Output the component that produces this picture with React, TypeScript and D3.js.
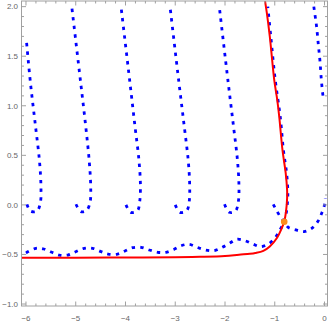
import React from 'react';
import * as d3 from 'd3';

const W = 330;
const H = 322;

// axis ticks
const xTicks = [-6, -5, -4, -3, -2, -1, 0];
const xTickLabels = ['\u22126', '\u22125', '\u22124', '\u22123', '\u22122', '\u22121', '0'];
const yTicks = [-1, -0.5, 0, 0.5, 1, 1.5, 2];
const yTickLabels = ['\u22121.0', '\u22120.5', '0.0', '0.5', '1.0', '1.5', '2.0'];

// red solid curve (x, y)
const redCurve: [number, number][] = [
  [-6.1, -0.532], [-5, -0.532], [-4, -0.531], [-3, -0.529], [-2.5, -0.524],
  [-2, -0.515], [-1.72, -0.502], [-1.5, -0.493], [-1.39, -0.485], [-1.23, -0.464],
  [-1.1, -0.42], [-0.96, -0.337], [-0.86, -0.236], [-0.81, -0.17], [-0.774, -0.068],
  [-0.752, 0.066], [-0.752, 0.15], [-0.78, 0.32], [-0.845, 0.554], [-0.91, 0.89],
  [-0.95, 1.06], [-1.01, 1.26], [-1.1, 1.7], [-1.16, 1.94], [-1.2, 2.07],
];

// blue dotted branches
const waveCurve: [number, number][] = [
  [-6.0, -0.485], [-5.8, -0.438], [-5.64, -0.445], [-5.48, -0.478], [-5.33, -0.506],
  [-5.16, -0.506], [-5.0, -0.472], [-4.83, -0.438], [-4.66, -0.438], [-4.49, -0.472],
  [-4.35, -0.496], [-4.16, -0.496], [-4.01, -0.465], [-3.86, -0.432], [-3.69, -0.428],
  [-3.52, -0.455], [-3.35, -0.478], [-3.19, -0.478], [-3.03, -0.45], [-2.87, -0.41],
  [-2.72, -0.398], [-2.56, -0.428], [-2.39, -0.455], [-2.22, -0.462], [-2.07, -0.432],
  [-1.91, -0.388], [-1.765, -0.347], [-1.6, -0.361], [-1.44, -0.395], [-1.28, -0.421],
  [-1.11, -0.388], [-0.975, -0.32], [-0.895, -0.253], [-0.84, -0.203], [-0.81, -0.17],
  [-0.765, -0.07], [-0.74, 0.06], [-0.738, 0.15], [-0.762, 0.32], [-0.826, 0.554],
  [-0.89, 0.89], [-0.99, 1.26], [-1.08, 1.7], [-1.14, 2.0],
];

const uCurve1: [number, number][] = [
  [-5.98, 0.006], [-5.91, -0.062], [-5.78, -0.062], [-5.71, 0.026], [-5.7, 0.2],
  [-5.73, 0.45], [-5.81, 0.8], [-5.91, 1.23], [-5.99, 1.65],
];
const uCurve2: [number, number][] = [
  [-4.995, 0.006], [-4.895, -0.068], [-4.78, -0.055], [-4.71, 0.032], [-4.7, 0.2],
  [-4.73, 0.45], [-4.8, 0.796], [-4.9, 1.23], [-5.08, 2.0],
];
const uCurve3: [number, number][] = [
  [-3.99, 0.0], [-3.895, -0.075], [-3.76, -0.058], [-3.715, 0.032], [-3.7, 0.2],
  [-3.73, 0.453], [-3.81, 0.796], [-3.91, 1.23], [-4.09, 2.0],
];
const uCurve4: [number, number][] = [
  [-3.0, 0.0], [-2.905, -0.075], [-2.77, -0.058], [-2.72, 0.032], [-2.71, 0.2],
  [-2.74, 0.453], [-2.82, 0.796], [-2.925, 1.23], [-3.105, 2.0],
];
const uCurve5: [number, number][] = [
  [-2.01, 0.006], [-1.91, -0.075], [-1.79, -0.062], [-1.73, 0.04], [-1.72, 0.2],
  [-1.75, 0.453], [-1.83, 0.796], [-1.935, 1.23], [-2.115, 2.0],
];
const hookCurve: [number, number][] = [
  [-1.03, 0.006], [-0.95, -0.068], [-0.875, -0.129], [-0.81, -0.17], [-0.73, -0.226],
  [-0.573, -0.253], [-0.41, -0.27], [-0.257, -0.236], [-0.137, -0.169], [-0.057, -0.085],
  [0.0, 0.0], [0.015, 0.07],
];
const rightCurve: [number, number][] = [
  [-0.215, 2.0], [-0.18, 1.876], [-0.157, 1.79], [-0.125, 1.62], [-0.09, 1.445],
  [-0.065, 1.27], [-0.03, 1.1], [-0.02, 1.08],
];

// special point
const markPoint: [number, number] = [-0.81, -0.17];

const blueCurves = [waveCurve, uCurve1, uCurve2, uCurve3, uCurve4, uCurve5, hookCurve, rightCurve];

const frameCol = '#a0a0a0';
const labelCol = '#666666';

export default function App() {
  const x = d3.scaleLinear().domain([-6.09, 0.06]).range([21.5, 327.5]);
  const y = d3.scaleLinear().domain([-1.02, 2.057]).range([306, 1]);

  const line = d3.line<[number, number]>()
    .x(d => x(d[0]))
    .y(d => y(d[1]))
    .curve(d3.curveCatmullRom);

  const [x0, x1] = x.range();
  const [y0, y1] = y.range();

  // minor ticks
  const xMinor = d3.range(-6, 0.001, 0.2).filter(v => Math.abs(v - Math.round(v)) > 0.01);
  const yMinor = d3.range(-1, 2.001, 0.1).filter(v => Math.abs(v * 2 - Math.round(v * 2)) > 0.01);

  return (
    <svg width={W} height={H} style={{ position: 'absolute', left: 0, top: 0, background: '#fff' }}
      fontFamily="'Liberation Sans', Arial, sans-serif">
      <defs>
        <clipPath id="plotClip">
          <rect x={x0} y={y1} width={x1 - x0} height={y0 - y1} />
        </clipPath>
      </defs>

      <g clipPath="url(#plotClip)">
        {blueCurves.map((c, i) => (
          <path key={i} d={line(c) || ''} fill="none" stroke="#0000ff" strokeWidth={2.8}
            strokeDasharray="3.4 5.2" />
        ))}
        <path d={line(redCurve) || ''} fill="none" stroke="#ff0000" strokeWidth={2} />
        <circle cx={x(markPoint[0])} cy={y(markPoint[1])} r={3.3} fill="#fb8c1e" />
      </g>

      {/* frame */}
      <rect x={x0} y={y1} width={x1 - x0} height={y0 - y1} fill="none" stroke={frameCol} strokeWidth={1} />

      {/* x ticks bottom and top */}
      {xTicks.map(v => (
        <g key={'xt' + v}>
          <line x1={x(v)} x2={x(v)} y1={y0} y2={y0 - 4.5} stroke={frameCol} />
          <line x1={x(v)} x2={x(v)} y1={y1} y2={y1 + 4.5} stroke={frameCol} />
        </g>
      ))}
      {xMinor.map(v => (
        <g key={'xm' + v}>
          <line x1={x(v)} x2={x(v)} y1={y0} y2={y0 - 2.5} stroke={frameCol} />
          <line x1={x(v)} x2={x(v)} y1={y1} y2={y1 + 2.5} stroke={frameCol} />
        </g>
      ))}
      {yTicks.map(v => (
        <g key={'yt' + v}>
          <line x1={x0} x2={x0 + 4.5} y1={y(v)} y2={y(v)} stroke={frameCol} />
          <line x1={x1} x2={x1 - 4.5} y1={y(v)} y2={y(v)} stroke={frameCol} />
        </g>
      ))}
      {yMinor.map(v => (
        <g key={'ym' + v}>
          <line x1={x0} x2={x0 + 2.5} y1={y(v)} y2={y(v)} stroke={frameCol} />
          <line x1={x1} x2={x1 - 2.5} y1={y(v)} y2={y(v)} stroke={frameCol} />
        </g>
      ))}

      {/* tick labels */}
      {xTicks.map((v, i) => (
        <text key={'xl' + v} x={x(v)} y={321} textAnchor="middle" fontSize={8} fill={labelCol}>
          {xTickLabels[i]}
        </text>
      ))}
      {yTicks.map((v, i) => (
        <text key={'yl' + v} x={x0 - 3.5} y={y(v) + 2.8} textAnchor="end" fontSize={8} fill={labelCol}>
          {yTickLabels[i]}
        </text>
      ))}
    </svg>
  );
}
